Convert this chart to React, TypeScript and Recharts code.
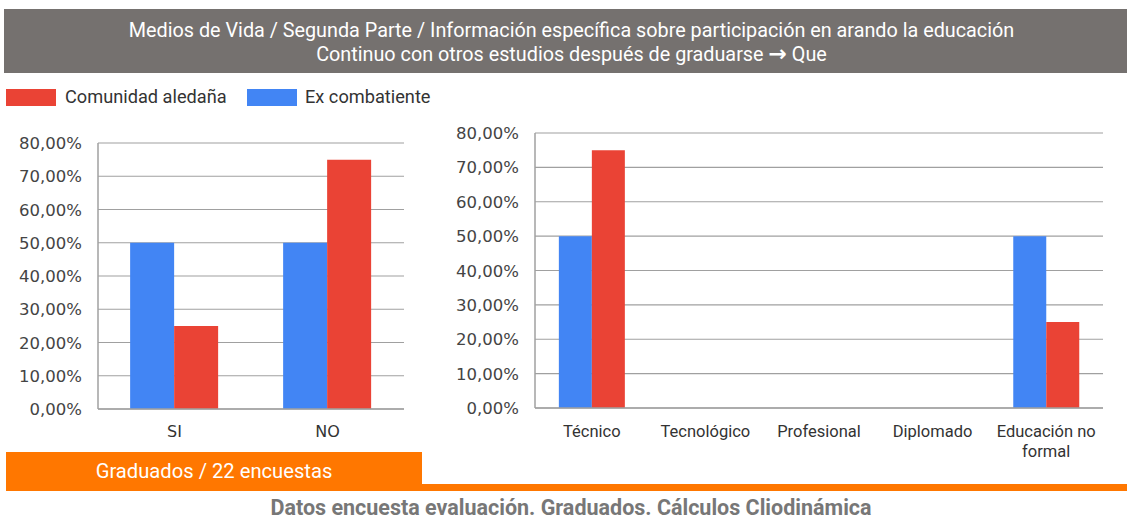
import React from "react";
import { BarChart, Bar, XAxis, YAxis, CartesianGrid } from "recharts";

const leftCategories = ["SI", "NO"];
const leftEx = [0.5, 0.5];
const leftCom = [0.25, 0.75];

const rightCategories = ["Técnico", "Tecnológico", "Profesional", "Diplomado", "Educación no formal"];
const rightTickLabels = ["Técnico", "Tecnológico", "Profesional", "Diplomado", "Educación no\nformal"];
const rightEx = [0.5, 0, 0, 0, 0.5];
const rightCom = [0.75, 0, 0, 0, 0.25];

const yTicks = [0, 0.1, 0.2, 0.3, 0.4, 0.5, 0.6, 0.7, 0.8];

const titleLines = [
  "Medios de Vida / Segunda Parte / Información específica sobre participación en arando la educación",
  "Continuo con otros estudios después de graduarse",
];
const titleTail = "Que";
const seriesNames = ["Comunidad aledaña", "Ex combatiente"];
const footerBox = "Graduados / 22 encuestas";
const footerText = "Datos encuesta evaluación. Graduados. Cálculos Cliodinámica";

const BLUE = "#4285F4";
const RED = "#EA4335";
const ORANGE = "#FF7700";
const GRID = "#a0a0a0";

const leftData = leftCategories.map((c, i) => ({ cat: c, ex: leftEx[i], com: leftCom[i] }));
const rightData = rightCategories.map((c, i) => ({ cat: c, label: rightTickLabels[i], ex: rightEx[i], com: rightCom[i] }));

const fmt = (v: number) => (v * 100).toFixed(2).replace(".", ",") + "%";

const YTick = (props: any) => {
  const { x, y, payload } = props;
  return (
    <text x={x} y={y} dy={6} textAnchor="end" fill="#444" fontSize={16.5} fontFamily="DejaVu Sans, sans-serif">
      {fmt(payload.value)}
    </text>
  );
};

const XTickLeft = (props: any) => {
  const { x, y, payload } = props;
  return (
    <text x={x} y={y} dy={20} textAnchor="middle" fill="#333" fontSize={16} fontFamily="DejaVu Sans, sans-serif">
      {payload.value}
    </text>
  );
};

const XTickRight = (props: any) => {
  const { x, y, payload } = props;
  const idx = rightCategories.indexOf(payload.value);
  const lines = (idx >= 0 ? rightTickLabels[idx] : String(payload.value)).split("\n");
  return (
    <text x={x} y={y} textAnchor="middle" fill="#333" fontSize={16.5} fontFamily="Roboto, sans-serif">
      {lines.map((l, i) => (
        <tspan key={i} x={x} dy={i === 0 ? 21 : 20}>
          {l}
        </tspan>
      ))}
    </text>
  );
};

export default function App() {
  return (
    <div style={{ position: "absolute", left: 0, top: 0, width: 1127, height: 519, background: "#fff", overflow: "hidden", fontFamily: "Roboto, sans-serif" }}>
      <div style={{ position: "absolute", left: 4, top: 9, width: 1123, height: 64, background: "#75716F", color: "#fff", fontSize: 19.8, textAlign: "center", lineHeight: "23px", paddingTop: 10, paddingLeft: 12, boxSizing: "border-box" }}>
        <div>{titleLines[0]}</div>
        <div>
          {titleLines[1]} <span style={{ fontWeight: 700, fontSize: 22, fontFamily: "DejaVu Sans, sans-serif" }}>{"\u2192"}</span> {titleTail}
        </div>
      </div>
      <div style={{ position: "absolute", left: 6, top: 89, width: 50, height: 17, background: RED }} />
      <div style={{ position: "absolute", left: 65, top: 86, fontSize: 18.2, color: "#333", lineHeight: "22px" }}>{seriesNames[0]}</div>
      <div style={{ position: "absolute", left: 247, top: 89, width: 50, height: 17, background: BLUE }} />
      <div style={{ position: "absolute", left: 305, top: 86, fontSize: 18.2, color: "#333", lineHeight: "22px" }}>{seriesNames[1]}</div>

      <div style={{ position: "absolute", left: 0, top: 120 }}>
        <BarChart width={420} height={330} data={leftData} margin={{ top: 23, right: 16, left: 0, bottom: 11 }} barGap={0} barCategoryGap="21%">
          <CartesianGrid vertical={false} stroke={GRID} strokeWidth={1.2} />
          <XAxis dataKey="cat" height={30} tickLine={false} axisLine={{ stroke: GRID, strokeWidth: 1.5 }} tick={<XTickLeft />} tickSize={0} tickMargin={8} />
          <YAxis width={98} domain={[0, 0.8]} ticks={yTicks} tickLine={false} axisLine={{ stroke: GRID, strokeWidth: 1.5 }} tick={<YTick />} tickSize={0} tickMargin={16} interval={0} />
          <Bar dataKey="ex" fill={BLUE} isAnimationActive={false} />
          <Bar dataKey="com" fill={RED} isAnimationActive={false} />
        </BarChart>
      </div>

      <div style={{ position: "absolute", left: 440, top: 110 }}>
        <BarChart width={687} height={360} data={rightData} margin={{ top: 23, right: 24, left: 0, bottom: 12 }} barGap={0} barCategoryGap="21%">
          <CartesianGrid vertical={false} stroke={GRID} strokeWidth={1.2} />
          <XAxis dataKey="cat" height={50} tickLine={false} axisLine={{ stroke: GRID, strokeWidth: 1.5 }} tick={<XTickRight />} tickSize={0} tickMargin={8} interval={0} />
          <YAxis width={95} domain={[0, 0.8]} ticks={yTicks} tickLine={false} axisLine={{ stroke: GRID, strokeWidth: 1.5 }} tick={<YTick />} tickSize={0} tickMargin={16} interval={0} />
          <Bar dataKey="ex" fill={BLUE} isAnimationActive={false} />
          <Bar dataKey="com" fill={RED} isAnimationActive={false} />
        </BarChart>
      </div>

      <div style={{ position: "absolute", left: 6, top: 452, width: 416, height: 39, background: ORANGE, color: "#fff", fontSize: 20.2, textAlign: "center", lineHeight: "39px" }}>{footerBox}</div>
      <div style={{ position: "absolute", left: 422, top: 484, width: 705, height: 7, background: ORANGE }} />
      <div style={{ position: "absolute", left: 0, top: 497, width: 1127, height: 21, paddingLeft: 15, boxSizing: "border-box", textAlign: "center", fontSize: 21.5, fontWeight: 700, color: "#777", lineHeight: "21px", whiteSpace: "nowrap" }}>{footerText}</div>
    </div>
  );
}
